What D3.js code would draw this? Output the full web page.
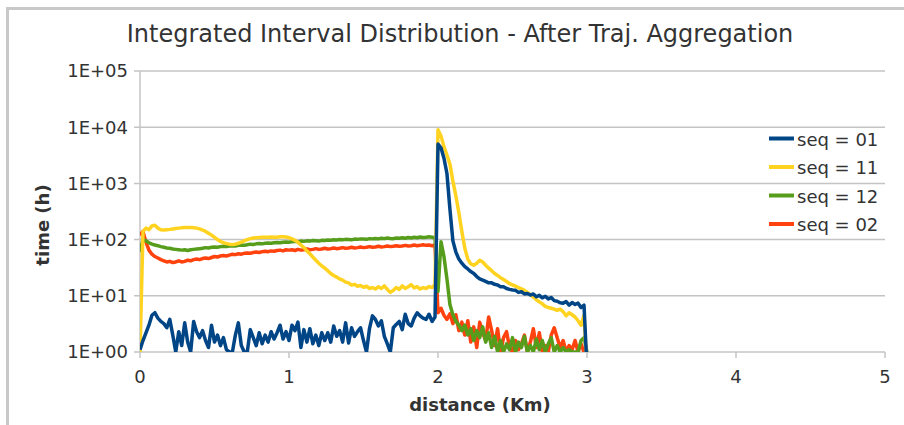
<!DOCTYPE html>
<html>
<head>
<meta charset="utf-8">
<script src="https://cdn.jsdelivr.net/npm/d3@7"></script>
<style>
body { margin: 0; background: #fff; }
text { font-family: "DejaVu Sans", sans-serif; fill: #333; }
</style>
</head>
<body>
<script>
var distance = [0.00,0.02,0.04,0.06,0.08,0.10,0.12,0.14,0.16,0.18,0.20,0.22,0.24,0.26,0.28,0.30,0.32,0.34,0.36,0.38,
  0.40,0.42,0.44,0.46,0.48,0.50,0.52,0.54,0.56,0.58,0.60,0.62,0.64,0.66,0.68,0.70,0.72,0.74,0.76,0.78,
  0.80,0.82,0.84,0.86,0.88,0.90,0.92,0.94,0.96,0.98,1.00,1.02,1.04,1.06,1.08,1.10,1.12,1.14,1.16,1.18,
  1.20,1.22,1.24,1.26,1.28,1.30,1.32,1.34,1.36,1.38,1.40,1.42,1.44,1.46,1.48,1.50,1.52,1.54,1.56,1.58,
  1.60,1.62,1.64,1.66,1.68,1.70,1.72,1.74,1.76,1.78,1.80,1.82,1.84,1.86,1.88,1.90,1.92,1.94,1.96,1.98,
  2.00,2.02,2.04,2.06,2.08,2.10,2.12,2.14,2.16,2.18,2.20,2.22,2.24,2.26,2.28,2.30,2.32,2.34,2.36,2.38,
  2.40,2.42,2.44,2.46,2.48,2.50,2.52,2.54,2.56,2.58,2.60,2.62,2.64,2.66,2.68,2.70,2.72,2.74,2.76,2.78,
  2.80,2.82,2.84,2.86,2.88,2.90,2.92,2.94,2.96,2.98,3.00]

// seq = 01
var seq01 = [1.1,1.6,2.2,3.0,4.5,5.0,4.0,3.5,3.2,2.7,3.8,2.0,1.0,2.3,1.3,3.3,1.5,1.0,3.5,2.3,
  1.8,2.4,1.6,1.2,3.0,1.5,2.0,1.3,1.8,1.1,1.0,1.0,2.0,3.3,1.3,1.0,1.0,2.5,1.8,1.3,
  2.2,1.4,2.0,1.5,2.3,1.7,2.2,3.0,1.7,2.3,1.6,3.0,2.4,3.4,1.2,2.5,1.5,2.6,1.4,2.0,
  1.3,2.2,1.6,2.2,1.5,2.9,1.9,2.4,1.5,3.3,1.45,2.7,1.9,2.3,2.7,1.6,1.0,2.6,4.4,3.8,
  2.9,3.6,1.9,1.4,1.0,2.7,3.1,3.5,2.5,4.7,3.2,2.9,4.0,5.0,4.4,4.0,3.8,4.7,3.5,4.2,
  5000,4300,2800,1500,350,95,60,45,38,33,30,27,25,22,20,19,18,17,17,16,
  15.6,14.5,14.5,13.5,13,12.7,12.5,11.5,11.8,10.8,11,10.3,10.8,9.6,10.2,9.2,9.8,8.8,9.3,8.2,
  8.0,7.5,7.4,7.9,6.8,7.6,7.0,7.4,6.2,6.8,0.5]

// seq = 11
var seq11 = [1.0,140,160,150,175,180,160,150,148,150,152,155,158,160,162,164,165,165,163,160,
  155,148,140,130,120,110,100,93,88,85,83,82,83,86,90,95,100,104,107,108,
  109,110,110,110,111,110,110,112,112,111,108,103,97,90,80,72,63,56,49,43,
  38,34,31,28,25,23,21.5,20,19,17.5,17,15.5,16,14.8,15.2,14.2,14.8,13.5,14,13.2,
  14.5,13.5,15,13,11.5,12.5,14,13,15,13.5,14.5,15.8,13.8,14.5,13.2,14,13.5,14.6,14,16,
  9000,7000,4500,3200,2200,1100,600,300,140,70,45,37,35,38,43,40,35,31,28,25,
  23,21,19.5,18,16.5,15.6,14.8,14,13.3,12.5,11.5,10.5,9.5,8.5,7.8,7.2,6.5,6.2,6.0,5.8,
  5.5,5.8,5.2,4.4,5.0,4.6,4.2,3.6,3.0,4.5,0.5]

// seq = 12
var seq12 = [60,100,95,88,83,80,78,75,73,71,70,68,67,66,65,66,64,66,67,68,
  69,70,72,71,73,74,73,75,76,75,77,78,77,79,80,79,81,83,82,84,
  85,84,86,87,86,88,89,88,90,91,90,92,93,91,94,93,95,94,96,95,
  94,97,96,98,97,99,98,100,99,101,100,99,102,101,103,102,101,104,103,105,
  103,106,104,107,105,104,107,106,108,106,109,107,110,108,111,109,110,112,110,108,
  12,92,50,20,7,4.6,3.5,3.0,2.4,3.0,2.0,2.6,1.6,2.4,1.8,2.8,1.5,2.2,1.2,1.9,
  1.0,1.6,1.0,1.4,1.1,1.8,1.0,1.5,1.2,1.9,1.0,1.3,1.0,1.7,1.1,1.6,1.0,1.4,1.8,1.0,
  1.3,1.0,1.2,1.0,1.1,1.0,1.0,1.0,1.6,1.8,1.0]

// seq = 02
var seq02 = [120,140,90,65,55,50,47,44,42,40,41,39,40,42,40,41,43,42,44,45,
  44,46,47,46,48,50,49,51,52,51,53,55,54,56,55,57,58,57,59,60,
  59,61,62,61,63,62,64,65,63,66,65,66,64,67,65,66,68,66,67,69,
  67,68,70,68,69,71,69,70,72,70,71,73,71,72,74,72,73,75,73,74,
  76,74,75,77,75,76,78,76,77,79,77,78,80,78,79,81,79,80,78,80,
  5,6,4.5,3.8,4.8,3.2,4.6,2.4,3.4,2.0,3.6,1.5,2.8,1.2,3.4,2.2,1.6,4.2,2.4,1.3,
  2.6,1.0,1.8,2.3,1.2,1.0,1.6,1.1,1.4,2.0,1.0,1.5,2.6,1.2,2.2,1.0,1.3,1.0,2.0,2.7,
  1.8,1.2,1.6,1.0,1.3,1.1,1.6,1.0,1.4,1.0,1.0]

var seriesNames = ["seq = 01", "seq = 11", "seq = 12", "seq = 02"]
var seriesValues = [seq01, seq11, seq12, seq02]
var seriesColors = ["#004586", "#ffd320", "#579d1c", "#ff420e"]
var yTicks = [1, 10, 100, 1000, 10000, 100000]
var yTickLabels = ["1E+00", "1E+01", "1E+02", "1E+03", "1E+04", "1E+05"]
var xTicks = [0, 1, 2, 3, 4, 5]

var width = 904, height = 425
var margin = {top: 71, right: 19, bottom: 73, left: 140}
var plotW = width - margin.left - margin.right
var plotH = height - margin.top - margin.bottom

var svg = d3.select("body").append("svg")
  .attr("width", width)
  .attr("height", height)

// outer frame (only left and top are visible)
svg.append("path")
  .attr("d", "M7.5,425 V8.5 H904")
  .attr("fill", "none")
  .attr("stroke", "#c8c8c8")
  .attr("stroke-width", 3)

var x = d3.scaleLinear().domain([0, 5]).range([0, plotW])
var y = d3.scaleLog().domain([1, 100000]).range([plotH, 0])

var g = svg.append("g")
  .attr("transform", "translate(" + margin.left + "," + margin.top + ")")

// horizontal grid
g.append("g").selectAll("line").data(yTicks).enter().append("line")
  .attr("x1", -6).attr("x2", plotW)
  .attr("y1", function(d){ return y(d) }).attr("y2", function(d){ return y(d) })
  .attr("stroke", "#c4c4c4")
  .attr("stroke-width", 1.5)

// y axis line
g.append("line")
  .attr("x1", 0).attr("x2", 0).attr("y1", 0).attr("y2", plotH)
  .attr("stroke", "#c4c4c4").attr("stroke-width", 1.5)

// x ticks
g.append("g").selectAll("line").data(xTicks).enter().append("line")
  .attr("x1", function(d){ return x(d) }).attr("x2", function(d){ return x(d) })
  .attr("y1", plotH).attr("y2", plotH + 6)
  .attr("stroke", "#c4c4c4").attr("stroke-width", 1.5)

g.append("g").selectAll("text").data(yTicks).enter().append("text")
  .attr("x", -12)
  .attr("y", function(d){ return y(d) })
  .attr("dy", "0.36em")
  .attr("text-anchor", "end")
  .style("font-size", "18px")
  .text(function(d, i){ return yTickLabels[i] })

g.append("g").selectAll("text").data(xTicks).enter().append("text")
  .attr("x", function(d){ return x(d) })
  .attr("y", plotH + 31)
  .attr("text-anchor", "middle")
  .style("font-size", "18px")
  .text(function(d){ return d })

// clip
svg.append("defs").append("clipPath").attr("id", "clip")
  .append("rect").attr("x", 0).attr("y", 0).attr("width", plotW).attr("height", plotH)

var line = d3.line()
  .x(function(d, i){ return x(distance[i]) })
  .y(function(d){ return y(d) })

// last series drawn first so seq = 01 sits on top
var lines = g.append("g").attr("clip-path", "url(#clip)")
for (var k = seriesValues.length - 1; k >= 0; k--) {
  lines.append("path")
    .attr("d", line(seriesValues[k]))
    .attr("fill", "none")
    .attr("stroke", seriesColors[k])
    .attr("stroke-width", 3.5)
    .attr("stroke-linejoin", "round")
}

// legend
var legend = svg.append("g")
var legendY = [138.5, 167, 195.5, 224]
seriesNames.forEach(function(name, k){
  legend.append("line")
    .attr("x1", 769).attr("x2", 794)
    .attr("y1", legendY[k]).attr("y2", legendY[k])
    .attr("stroke", seriesColors[k]).attr("stroke-width", 4)
  legend.append("text")
    .attr("x", 797).attr("y", legendY[k] + 7)
    .style("font-size", "18px")
    .text(name)
})

// titles
svg.append("text")
  .attr("x", 460).attr("y", 42)
  .attr("text-anchor", "middle")
  .style("font-size", "24px")
  .text("Integrated Interval Distribution - After Traj. Aggregation")

svg.append("text")
  .attr("x", 480).attr("y", 411)
  .attr("text-anchor", "middle")
  .style("font-size", "18px")
  .style("font-weight", "bold")
  .text("distance (Km)")

svg.append("text")
  .attr("transform", "translate(49,225) rotate(-90)")
  .attr("text-anchor", "middle")
  .style("font-size", "18px")
  .style("font-weight", "bold")
  .text("time (h)")
</script>
</body>
</html>
